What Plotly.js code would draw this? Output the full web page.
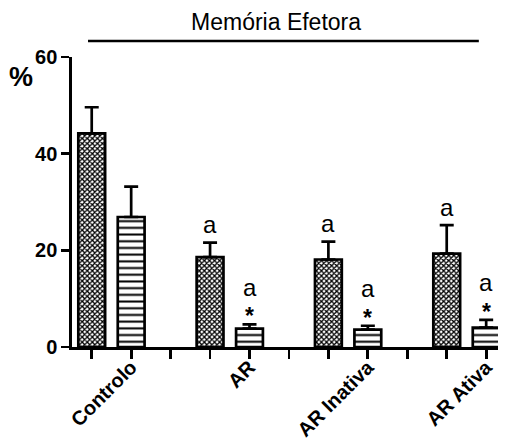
<!DOCTYPE html>
<html>
<head>
<meta charset="utf-8">
<script src="https://cdn.plot.ly/plotly-3.0.1.min.js"></script>
<style>html,body{margin:0;padding:0;background:#fff;}#chart{width:505px;height:446px;}</style>
</head>
<body>
<div id="chart"></div>
<script>
// ---- data ----
const categories = ["Controlo", "AR", "AR Inativa", "AR Ativa"];
const seriesCheck = [44.2, 18.6, 18.1, 19.3];
const errCheck = [5.4, 3.0, 3.7, 5.9];
const seriesLines = [26.9, 3.8, 3.6, 4.0];
const errLines = [6.3, 0.9, 0.8, 1.6];
const labelCheck = ["", "a", "a", "a"];
const labelLinesA = ["", "a", "a", "a"];
const labelLinesStar = ["", "*", "*", "*"];
const yTicks = [0, 20, 40, 60];
const chartTitle = "Memória Efetora";
const yLabel = "%";

// ---- positions: group i, bar j -> 3*i + j ----
const xCheck = categories.map((c, i) => 3 * i);
const xLines = categories.map((c, i) => 3 * i + 1);
const allTicks = [];
for (let k = 0; k <= 3 * categories.length - 2; k++) allTicks.push(k);
const tickText = allTicks.map(k => (k % 3 === 1) ? categories[(k - 1) / 3] : "");

const FONT = '"Liberation Sans", Arial, sans-serif';
const LW = 2.7;

const traceCheck = {
  type: 'bar', x: xCheck, y: seriesCheck, width: 0.68,
  marker: { color: 'white', line: { color: 'black', width: LW },
    pattern: { shape: 'x', size: 3.6, solidity: 0.6, fgcolor: 'black', bgcolor: 'white' } },
  error_y: { type: 'data', symmetric: false, array: errCheck, arrayminus: errCheck.map(() => 0),
    color: 'black', thickness: LW, width: 7 },
  hoverinfo: 'none', showlegend: false
};
const traceLines = {
  type: 'bar', x: xLines, y: seriesLines, width: 0.68,
  marker: { color: 'white', line: { color: 'black', width: LW },
    pattern: { shape: '-', size: 6.7, solidity: 0.3, fgcolor: 'black', bgcolor: 'white' } },
  error_y: { type: 'data', symmetric: false, array: errLines, arrayminus: errLines.map(() => 0),
    color: 'black', thickness: LW, width: 7 },
  hoverinfo: 'none', showlegend: false
};

const annotations = [];
categories.forEach((c, i) => {
  if (labelCheck[i]) annotations.push({ x: xCheck[i], y: seriesCheck[i] + errCheck[i], xref: 'x', yref: 'y',
    text: labelCheck[i], showarrow: false, yanchor: 'middle', yshift: 18, font: { family: FONT, size: 24, color: 'black' } });
  if (labelLinesStar[i]) annotations.push({ x: xLines[i], y: seriesLines[i] + errLines[i], xref: 'x', yref: 'y',
    text: labelLinesStar[i], showarrow: false, yanchor: 'middle', yshift: 8, font: { family: FONT, size: 23, color: 'black', weight: 'bold' } });
  if (labelLinesA[i]) annotations.push({ x: xLines[i], y: seriesLines[i] + errLines[i], xref: 'x', yref: 'y',
    text: labelLinesA[i], showarrow: false, yanchor: 'middle', yshift: 37, font: { family: FONT, size: 24, color: 'black' } });
});
annotations.push({ x: -0.12, y: 0.93, xref: 'paper', yref: 'paper', text: yLabel, showarrow: false,
  xanchor: 'center', yanchor: 'middle', font: { family: FONT, size: 27, color: 'black', weight: 'bold' } });

const layout = {
  width: 505, height: 446,
  margin: { l: 72, r: 7, t: 57, b: 99 },
  paper_bgcolor: 'white', plot_bgcolor: 'white',
  font: { family: FONT, color: 'black' },
  title: { text: chartTitle, font: { family: FONT, size: 23, color: 'black' },
    xref: 'paper', x: 0.479, xanchor: 'center', yref: 'container', y: 0.951, yanchor: 'middle' },
  xaxis: { range: [-0.5, 10.3], tickmode: 'array', tickvals: allTicks, ticktext: tickText,
    tickangle: -45, tickfont: { family: FONT, size: 20, color: 'black', weight: 'bold' },
    ticklabelstandoff: -11,
    showline: true, linecolor: 'black', linewidth: LW, ticks: 'outside', ticklen: 9, tickwidth: LW, tickcolor: 'black',
    showgrid: false, zeroline: false, fixedrange: true, automargin: false },
  yaxis: { range: [0, 60], tickmode: 'array', tickvals: yTicks,
    tickfont: { family: FONT, size: 20, color: 'black', weight: 'bold' },
    showline: true, linecolor: 'black', linewidth: LW, ticks: 'outside', ticklen: 8, tickwidth: LW, tickcolor: 'black',
    showgrid: false, zeroline: false, fixedrange: true },
  shapes: [{ type: 'line', xref: 'paper', yref: 'paper', x0: 0.0376, x1: 0.955, y0: 1.055, y1: 1.055,
    line: { color: 'black', width: 2.5 } }],
  annotations: annotations,
  bargap: 0
};

Plotly.newPlot('chart', [traceCheck, traceLines], layout, { staticPlot: true, displayModeBar: false });
</script>
</body>
</html>
